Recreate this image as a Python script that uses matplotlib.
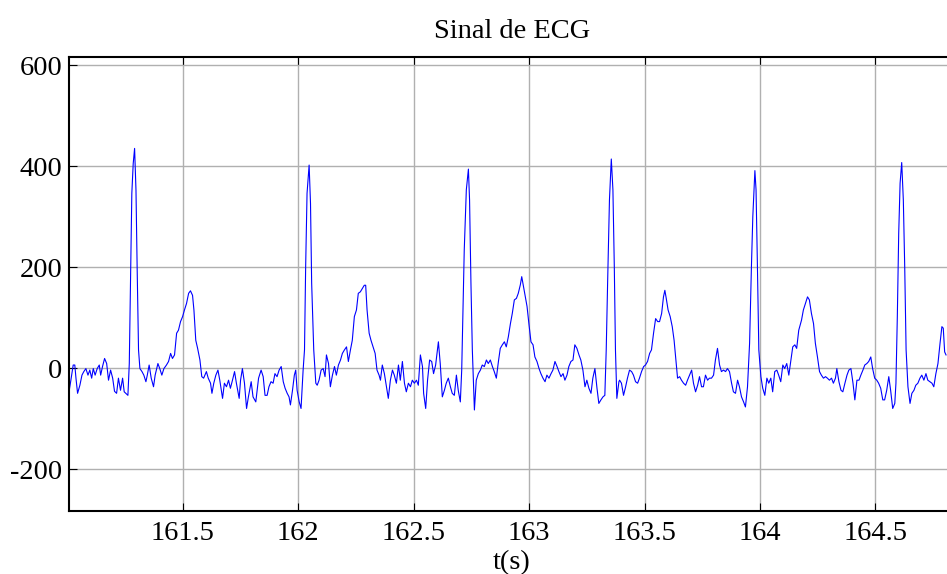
import numpy as np
import matplotlib; matplotlib.use("Agg")
import matplotlib.pyplot as plt

# ECG samples (time in s, amplitude)
t_s = [
    161.008, 161.015, 161.025, 161.032, 161.037, 161.044, 161.054, 161.063, 161.071, 161.080,
    161.089, 161.097, 161.105, 161.112, 161.120, 161.129, 161.138, 161.144, 161.152, 161.161,
    161.170, 161.178, 161.187, 161.196, 161.204, 161.213, 161.221, 161.230, 161.239, 161.246,
    161.253, 161.262, 161.268, 161.273, 161.279, 161.285, 161.291, 161.297, 161.302, 161.308,
    161.314, 161.323, 161.331, 161.340, 161.346, 161.354, 161.363, 161.373, 161.380, 161.392,
    161.400, 161.409, 161.418, 161.429, 161.438, 161.447, 161.455, 161.464, 161.473, 161.481,
    161.490, 161.499, 161.507, 161.516, 161.525, 161.533, 161.542, 161.548, 161.556, 161.564,
    161.574, 161.582, 161.590, 161.602, 161.610, 161.620, 161.626, 161.634, 161.643, 161.652,
    161.660, 161.672, 161.680, 161.689, 161.698, 161.706, 161.715, 161.724, 161.732, 161.744,
    161.750, 161.758, 161.767, 161.776, 161.784, 161.796, 161.804, 161.816, 161.828,
    161.839, 161.848, 161.856, 161.865, 161.873, 161.882, 161.891, 161.899, 161.908, 161.917,
    161.926, 161.935, 161.943, 161.952, 161.960, 161.966, 161.975, 161.983, 161.989, 161.995,
    162.004, 162.012, 162.021, 162.027, 162.032, 162.038, 162.047, 162.053, 162.058, 162.067,
    162.076, 162.082, 162.090, 162.099, 162.108, 162.116, 162.122, 162.131, 162.139, 162.148,
    162.157, 162.165, 162.174, 162.183, 162.191, 162.200, 162.209, 162.217, 162.226, 162.234,
    162.243, 162.252, 162.260, 162.269, 162.278, 162.286, 162.292, 162.298, 162.307, 162.315,
    162.324, 162.333, 162.341, 162.350, 162.356, 162.364, 162.373, 162.382, 162.390, 162.399,
    162.408, 162.416, 162.425, 162.434, 162.442, 162.451, 162.460, 162.468, 162.477, 162.486,
    162.494, 162.503, 162.512, 162.520, 162.529, 162.538, 162.543, 162.552, 162.560, 162.569,
    162.578, 162.586, 162.595, 162.607,
    162.615, 162.624, 162.633, 162.641, 162.650, 162.659, 162.667, 162.676, 162.685, 162.693,
    162.702, 162.708, 162.713, 162.719, 162.728, 162.737, 162.742, 162.748, 162.754, 162.763,
    162.771, 162.780, 162.789, 162.797, 162.806, 162.815, 162.823, 162.832, 162.841, 162.849,
    162.858, 162.867, 162.875, 162.884, 162.893, 162.901, 162.910, 162.919, 162.927, 162.936,
    162.945, 162.953, 162.962, 162.968, 162.973, 162.982, 162.991, 162.999, 163.008, 163.017,
    163.025, 163.034, 163.043, 163.051, 163.060, 163.069, 163.077, 163.086, 163.095, 163.103,
    163.112, 163.121, 163.129, 163.138, 163.147, 163.155, 163.164, 163.172, 163.181, 163.190,
    163.198, 163.207, 163.216, 163.224, 163.233, 163.242, 163.250, 163.259, 163.268, 163.276,
    163.285, 163.294, 163.302, 163.311, 163.320, 163.328, 163.334, 163.340, 163.348, 163.356,
    163.363, 163.369, 163.374, 163.380, 163.389,
    163.392, 163.400, 163.409, 163.418, 163.426, 163.435, 163.444, 163.452, 163.461, 163.470,
    163.478, 163.487, 163.496, 163.504, 163.513, 163.522, 163.530, 163.539, 163.548, 163.557,
    163.565, 163.574, 163.582, 163.588, 163.594, 163.602, 163.611, 163.620, 163.628, 163.637,
    163.643, 163.652, 163.660, 163.669, 163.678, 163.686, 163.695, 163.704, 163.712, 163.721,
    163.730, 163.738, 163.747, 163.755, 163.764, 163.773, 163.781, 163.790, 163.799, 163.807,
    163.816, 163.825, 163.833, 163.842, 163.851, 163.859, 163.868, 163.877, 163.885, 163.894,
    163.903, 163.911, 163.920, 163.929, 163.937, 163.946, 163.955, 163.963, 163.969, 163.978,
    163.983, 163.989, 163.995, 164.004, 164.012, 164.021, 164.030, 164.038, 164.047, 164.055,
    164.064, 164.073, 164.081, 164.090, 164.099, 164.107, 164.116, 164.125, 164.133, 164.142,
    164.151, 164.159, 164.168,
    164.174, 164.180, 164.188, 164.197, 164.206, 164.214, 164.223, 164.232, 164.240, 164.249,
    164.258, 164.266, 164.275, 164.284, 164.292, 164.301, 164.310, 164.318, 164.327, 164.333,
    164.342, 164.351, 164.359, 164.368, 164.377, 164.385, 164.394, 164.403, 164.411, 164.420,
    164.429, 164.437, 164.446, 164.454, 164.463, 164.471, 164.480, 164.488, 164.497, 164.506,
    164.514, 164.523, 164.532, 164.540, 164.549, 164.558, 164.566, 164.575, 164.584, 164.589,
    164.595, 164.601, 164.607, 164.614, 164.621, 164.627, 164.633, 164.641, 164.650, 164.658,
    164.667, 164.675, 164.684, 164.693, 164.701, 164.710, 164.719, 164.727, 164.736, 164.745,
    164.753, 164.762, 164.771, 164.780, 164.788, 164.794, 164.800, 164.806,
]
ecg = [
    -44, -24, 6, 6, -20, -50, -34, -14, -7, -1,
    -14, -4, -20, -1, -14, -1, 6, -14, 3, 19,
    9, -24, -4, -20, -46, -50, -20, -44, -20, -47,
    -50, -54, 9, 168, 346, 405, 435, 352, 200, 36,
    -1, -7, -14, -27, -14, 6, -20, -37, -14, 9,
    -1, -14, -1, 6, 13, 29, 19, 26, 69, 75,
    92, 102, 115, 128, 148, 153, 144, 115, 55, 39,
    16, -17, -20, -7, -20, -30, -50, -30, -14, -4,
    -24, -60, -30, -37, -24, -40, -24, -7, -30, -60,
    -24, -1, -30, -80, -57, -27, -57, -67, -20,
    -4, -17, -54, -54, -37, -27, -30, -11, -17, -4,
    3, -27, -40, -50, -57, -73, -44, -14, -4, -44,
    -67, -80, -4, 36, 201, 346, 402, 326, 168, 36,
    -30, -34, -24, -4, -1, -17, 26, 9, -37, -14,
    3, -14, 6, 16, 29, 36, 42, 13, 36, 55,
    102, 115, 148, 151, 158, 164, 164, 115, 69, 55,
    42, 29, -4, -14, -24, 6, -11, -37, -60, -24,
    -4, -14, -30, 6, -24, 13, -30, -47, -30, -37,
    -24, -30, -24, -34, 26, 3, -50, -80, -24, 16,
    13, -11, 6, 52,
    9, -57, -44, -30, -20, -37, -50, -54, -14, -44,
    -67, -4, 102, 234, 353, 394, 333, 168, 36, -83,
    -24, -11, -4, 6, 3, 16, 9, 16, 3, -7,
    -20, 13, 39, 46, 52, 42, 62, 88, 108, 135,
    138, 148, 165, 181, 168, 145, 122, 88, 52, 46,
    22, 13, -1, -11, -20, -27, -14, -20, -11, -4,
    13, 3, -7, -17, -11, -24, -14, 3, 13, 16,
    46, 39, 26, 16, -4, -37, -24, -40, -50, -20,
    -1, -40, -70, -63, -57, -54, 36, 168, 333, 414,
    353, 201, 36, -60, -27,
    -24, -30, -54, -37, -20, -4, -7, -14, -27, -30,
    -20, -7, 3, 6, 13, 29, 36, 69, 98, 92,
    92, 108, 141, 154, 138, 115, 102, 82, 55, 9,
    -20, -17, -24, -30, -34, -24, -14, -4, -30, -47,
    -34, -17, -37, -37, -14, -24, -20, -20, -14, 16,
    39, 6, -7, -4, -7, -1, -7, -30, -47, -50,
    -24, -37, -57, -67, -77, -37, 49, 201, 300, 391,
    353, 201, 36, -17, -40, -54, -20, -30, -20, -47,
    -7, -4, -14, -27, 6, -1, 9, -14, 13, 42,
    46, 39, 75,
    85, 95, 115, 128, 141, 135, 108, 88, 49, 22,
    -7, -14, -20, -17, -20, -24, -20, -30, -20, -1,
    -27, -44, -47, -30, -14, -4, -1, -30, -63, -24,
    -24, -14, -4, 6, 9, 13, 22, -1, -20, -24,
    -30, -40, -63, -63, -44, -17, -44, -80, -70, -30,
    102, 267, 366, 407, 333, 201, 36, -37, -70, -50,
    -44, -34, -30, -20, -14, -24, -11, -24, -27, -30,
    -37, -11, 9, 49, 82, 79, 32, 26,
]

x_ticks = [161.5, 162, 162.5, 163, 163.5, 164, 164.5]
x_labels = ["161.5", "162", "162.5", "163", "163.5", "164", "164.5"]
y_ticks = [-200, 0, 200, 400, 600]

plt.rcParams["font.family"] = ["Liberation Serif", "DejaVu Serif"]
plt.rcParams["axes.unicode_minus"] = False

fig = plt.figure(figsize=(9.47, 5.74), dpi=100)
ax = fig.add_axes([0.0729, 0.1098, 1.008 - 0.0729, 0.9007 - 0.1098])
ax.plot(t_s, ecg, color="blue", lw=0.8)
ax.set_xlim(161.007, 164.843)
ax.set_ylim(-283, 616)
ax.set_xticks(x_ticks); ax.set_xticklabels(x_labels)
ax.set_yticks(y_ticks)
ax.grid(True, color="#b0b0b0", lw=1.0)
ax.set_axisbelow(True)
ax.tick_params(direction="in", length=6, top=True, right=True, labelsize=20.5)
ax.tick_params(axis="x", pad=7)
ax.tick_params(axis="y", pad=5)
ax.set_title("Sinal de ECG", fontsize=20.5, pad=14)
ax.set_xlabel("t(s)", fontsize=20.5, labelpad=3)
for s in ax.spines.values():
    s.set_linewidth(1.5)

fig.savefig("out.png", dpi=100)
